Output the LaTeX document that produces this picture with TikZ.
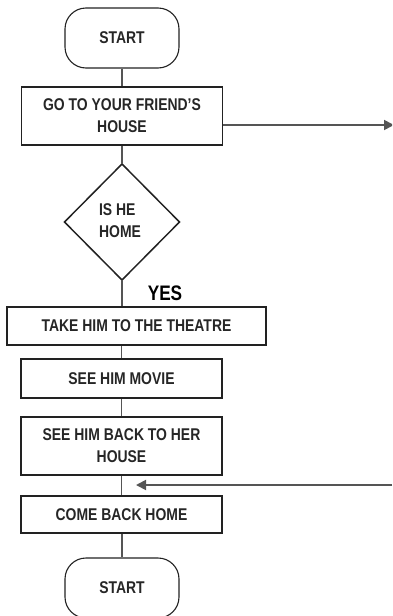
\documentclass[tikz,border=0pt]{standalone}
\usepackage{fontspec}
\setmainfont{Liberation Sans}[FakeStretch=0.82]
\usetikzlibrary{arrows.meta}
\definecolor{edgegray}{HTML}{555555}
\definecolor{boxline}{HTML}{222222}
\begin{document}
\begin{tikzpicture}[x=1pt,y=-1pt,
  txt/.style={font=\bfseries\fontsize{17}{22}\selectfont, text=black!85, align=center, inner sep=0pt},
  procbox/.style={txt, draw=boxline, line width=1.5pt, minimum width=201pt},
  terminal/.style={txt, draw=boxline, line width=1.1pt, rounded corners=21pt, minimum width=114pt, minimum height=60pt},
  decision/.style={draw=boxline, line width=1.5pt},
  link/.style={draw=edgegray, line width=1.8pt},
  arrowlink/.style={link, -{Triangle[length=10pt,width=10pt]}}
]
\useasboundingbox (0,0) rectangle (392,616);
\clip (0,0) rectangle (392,616);

% terminals and process steps
\node[terminal] (start) at (122,38) {START};
\node[procbox, minimum height=58pt] (friend) at (122,116) {GO TO YOUR FRIEND'S\\HOUSE};
\draw[decision] (122,164) coordinate (dtop) -- (179.5,222) coordinate (dright)
  -- (122,280) coordinate (dbot) -- (64.5,222) coordinate (dleft) -- cycle;
\node[txt, align=left] (home) at (120,221) {IS HE\\HOME};
\node[font=\bfseries\fontsize{21}{21}\selectfont, inner sep=0pt] (yes) at (165,293) {YES};
\node[procbox, minimum width=259pt, minimum height=38pt] (theatre) at (136.5,326) {TAKE HIM TO THE THEATRE};
\node[procbox, minimum height=39pt] (movie) at (121.5,378.5) {SEE HIM MOVIE};
\node[procbox, minimum height=58pt] (back) at (121.5,446) {SEE HIM BACK TO HER\\HOUSE};
\node[procbox, minimum height=37pt] (come) at (121.5,514.5) {COME BACK HOME};
\node[terminal] (finish) at (122,588) {START};

% flow lines
\draw[link] (start.south) -- (friend.north);
\draw[link] (friend.south -| dtop) -- (dtop);
\draw[link] (dbot) -- (theatre.north -| dbot);
\draw[link] (theatre.south -| movie.north) -- (movie.north);
\draw[link] (movie.south) -- (back.north);
\draw[link] (back.south) -- (come.north);
\draw[link] (come.south -| finish.north) -- (finish.north);

% side connectors
\coordinate (outR) at (394,125);
\coordinate (inR) at (392,485);
\coordinate (inTip) at (136,485);
\draw[arrowlink] (friend.east |- outR) -- (outR);
\draw[arrowlink] (inR) -- (inTip);
\end{tikzpicture}
\end{document}
